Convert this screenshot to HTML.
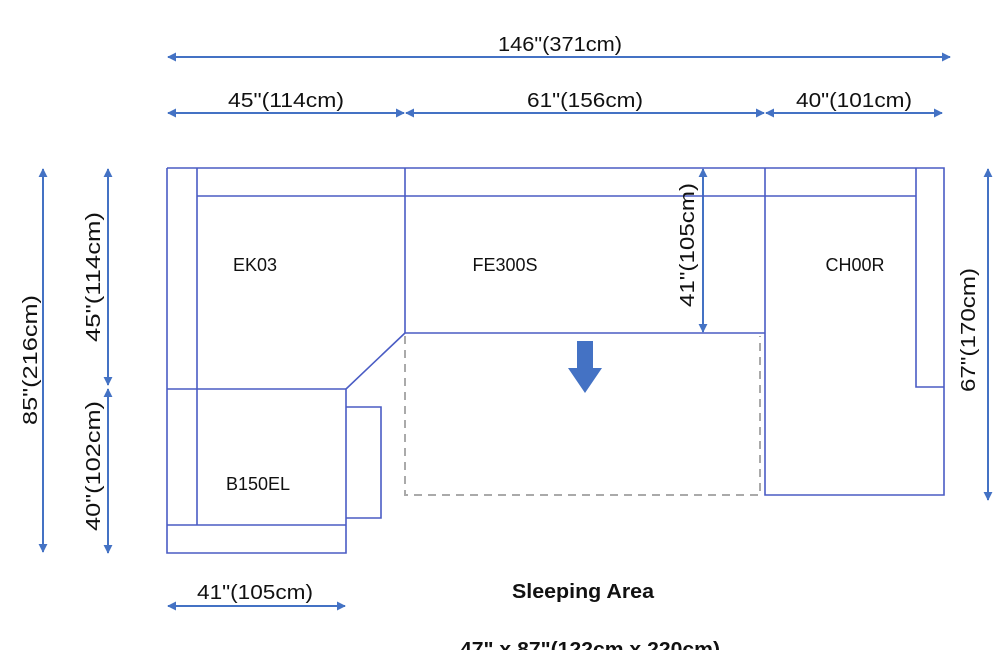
<!DOCTYPE html>
<html><head><style>body{margin:0;background:#fff}svg{display:block}</style></head>
<body>
<svg width="1000" height="650" viewBox="0 0 1000 650" xmlns="http://www.w3.org/2000/svg" font-family="Liberation Sans, sans-serif">
<defs>
<marker id="a" viewBox="0 0 10 10" refX="9" refY="5" markerWidth="9" markerHeight="9" markerUnits="userSpaceOnUse" orient="auto-start-reverse"><path d="M0,0L10,5L0,10z" fill="#4472c4"/></marker>
</defs>
<g stroke="#4472c4" stroke-width="2" fill="none" marker-start="url(#a)" marker-end="url(#a)">
<line x1="168" y1="57" x2="950" y2="57"/>
<line x1="168" y1="113" x2="404" y2="113"/>
<line x1="406" y1="113" x2="764" y2="113"/>
<line x1="766" y1="113" x2="942" y2="113"/>
<line x1="43" y1="169" x2="43" y2="552"/>
<line x1="108" y1="169" x2="108" y2="385"/>
<line x1="108" y1="389" x2="108" y2="553"/>
<line x1="703" y1="169" x2="703" y2="332"/>
<line x1="988" y1="169" x2="988" y2="500"/>
<line x1="168" y1="606" x2="345" y2="606"/>
</g>
<g stroke="#4a5cc4" stroke-width="1.6" fill="none">
<polyline points="167,168 944,168 944,495 765,495 765,168"/>
<line x1="197" y1="196" x2="916" y2="196"/>
<polyline points="916,168 916,387 944,387"/>
<line x1="405" y1="168" x2="405" y2="333"/>
<line x1="405" y1="333" x2="765" y2="333"/>
<polyline points="405,333 346,389 346,553 167,553 167,168"/>
<line x1="197" y1="168" x2="197" y2="525"/>
<line x1="167" y1="389" x2="346" y2="389"/>
<line x1="167" y1="525" x2="346" y2="525"/>
<polyline points="346,407 381,407 381,518 346,518"/>
</g>
<polyline points="405,336 405,495 760,495 760,336" stroke="#aaa" stroke-width="2" fill="none" stroke-dasharray="8,6"/>
<path d="M577,341h16v27h9l-17,25l-17,-25h9z" fill="#4472c4"/>
<g font-size="20" fill="#111" text-anchor="middle">
<text x="560" y="51" textLength="124" lengthAdjust="spacingAndGlyphs">146"(371cm)</text>
<text x="286" y="107" textLength="116" lengthAdjust="spacingAndGlyphs">45"(114cm)</text>
<text x="585" y="107" textLength="116" lengthAdjust="spacingAndGlyphs">61"(156cm)</text>
<text x="854" y="107" textLength="116" lengthAdjust="spacingAndGlyphs">40"(101cm)</text>
<text x="255" y="599" textLength="116" lengthAdjust="spacingAndGlyphs">41"(105cm)</text>
<text transform="translate(37,360) rotate(-90)" textLength="130" lengthAdjust="spacingAndGlyphs">85"(216cm)</text>
<text transform="translate(100,277) rotate(-90)" textLength="130" lengthAdjust="spacingAndGlyphs">45"(114cm)</text>
<text transform="translate(100,466) rotate(-90)" textLength="130" lengthAdjust="spacingAndGlyphs">40"(102cm)</text>
<text transform="translate(694,245) rotate(-90)" textLength="124" lengthAdjust="spacingAndGlyphs">41"(105cm)</text>
<text transform="translate(975,330) rotate(-90)" textLength="124" lengthAdjust="spacingAndGlyphs">67"(170cm)</text>
<text x="255" y="271" font-size="18">EK03</text>
<text x="505" y="271" font-size="18">FE300S</text>
<text x="855" y="271" font-size="18">CH00R</text>
<text x="258" y="490" font-size="18">B150EL</text>
<text x="583" y="598" font-weight="bold" textLength="142" lengthAdjust="spacingAndGlyphs">Sleeping Area</text>
<text x="590" y="656" font-weight="bold" textLength="260" lengthAdjust="spacingAndGlyphs">47" x 87"(122cm x 220cm)</text>
</g>
</svg>
</body></html>
